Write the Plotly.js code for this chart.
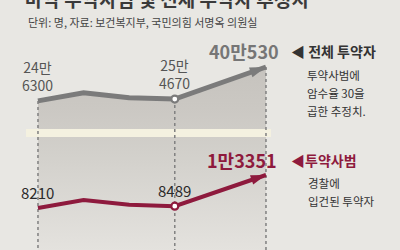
<!DOCTYPE html>
<html>
<head>
<meta charset="utf-8">
<script src="https://cdn.plot.ly/plotly-3.0.1.min.js"></script>
<style>
  html, body { margin: 0; padding: 0; background: #e8e7e3; }
  #chart { width: 400px; height: 250px; }
</style>
</head>
<body>
<div id="chart"></div>
<script>
// ---- data ----
const years = [2017, 2018, 2019, 2020, 2022];
const totalUsers = [246300, 283500, 261000, 254670, 400530];   // 전체 투약자 추정치
const offenders  = [8210, 9450, 8700, 8489, 13351];             // 투약사범
const labeledIdx = [0, 3];
const totalLabelTop = ['24만', '25만'];
const totalLabelBottom = ['6300', '4670'];
const offenderLabel = ['8210', '8489'];
const totalHeadline = '40만530';
const offenderHeadline = '1만3351';
const titleText = '마약 투약사범 및 전체 투약자 추정치';
const subtitleText = '단위: 명, 자료: 보건복지부, 국민의힘 서명옥 의원실';
const totalName = '◀ 전체 투약자';
const totalNote = ['투약사범에', '암수율 30을', '곱한 추정치.'];
const offenderName = '◀투약사범';
const offenderNote = ['경찰에', '입건된 투약자'];

// ---- styling / layout constants ----
const W = 400, H = 250;
const xRange = [2016.167, 2024.939];
const grayRange = [-432100, 705400];
const redRange = [1666, 40616];
const GRAY = '#7b7b7b';
const RED = '#8e1a3d';
const KR = "'Noto Sans CJK KR', sans-serif";
const NUM = "'Liberation Sans Narrow', 'Noto Sans CJK KR', sans-serif";
const band = { x0: 2016.737, x1: 2022.11, y: 133, width: 8, color: '#f4f1e0' };

const px = v => v / W;
const py = v => 1 - v / H;

const last = years.length - 1;

// dashed guides
const dashX = [], dashY = [];
[0, 3, last].forEach(i => {
  dashX.push(years[i], years[i], null);
  dashY.push(totalUsers[i], grayRange[0], null);
});

const markerSym = years.map((_, i) => i === last ? 'arrow' : 'circle');
const markerOp = years.map((_, i) => (i === last || labeledIdx.includes(i)) ? 1 : 0);

const traces = [
  { x: years, y: years.map(() => grayRange[0]), yaxis: 'y', mode: 'lines',
    line: { width: 0 }, hoverinfo: 'skip', showlegend: false },
  { x: years, y: totalUsers, yaxis: 'y', mode: 'lines', fill: 'tonexty',
    line: { width: 0 }, hoverinfo: 'skip', showlegend: false,
    fillgradient: { type: 'vertical', start: grayRange[0], stop: Math.max(...totalUsers),
      colorscale: [[0, '#e4e2de'], [0.5, '#d3d1cc'], [0.77, '#cbc8c3'], [1, '#c6c3be']] } },
  { x: [band.x0, band.x1], y: [band.y, band.y], yaxis: 'y2', mode: 'lines',
    line: { width: band.width, color: band.color }, hoverinfo: 'skip', showlegend: false },
  { x: dashX, y: dashY, yaxis: 'y3', mode: 'lines',
    line: { width: 1.5, color: '#808080', dash: 'dot' }, hoverinfo: 'skip', showlegend: false },
  { x: years, y: totalUsers, yaxis: 'y3', mode: 'lines+markers',
    line: { width: 5, color: GRAY },
    marker: { symbol: markerSym, angleref: 'previous', opacity: markerOp,
      size: years.map((_, i) => i === last ? 17 : 7),
      color: years.map((_, i) => i === last ? GRAY : 'white'),
      line: { color: GRAY, width: years.map((_, i) => i === last ? 0 : 2.2) } },
    hoverinfo: 'skip', showlegend: false },
  { x: years, y: offenders, yaxis: 'y4', mode: 'lines+markers',
    line: { width: 4, color: RED },
    marker: { symbol: markerSym, angleref: 'previous', opacity: markerOp,
      size: years.map((_, i) => i === last ? 16 : 7),
      color: years.map((_, i) => i === last ? RED : 'white'),
      line: { color: RED, width: years.map((_, i) => i === last ? 0 : 2.2) } },
    hoverinfo: 'skip', showlegend: false }
];

const annotations = [];
function add(o) {
  annotations.push(Object.assign({ showarrow: false, borderpad: 0, yanchor: 'middle' }, o));
}

// title & subtitle
add({ text: '<b>' + titleText + '</b>', xref: 'paper', yref: 'paper', x: px(24), y: py(-2),
  xanchor: 'left', font: { family: KR, size: 19, color: '#3a3a3a' } });
add({ text: subtitleText, xref: 'paper', yref: 'paper', x: px(27), y: py(22.5),
  xanchor: 'left', font: { family: KR, size: 11, color: '#444' } });

// point labels
labeledIdx.forEach((i, k) => {
  add({ text: totalLabelTop[k] + '<br>' + totalLabelBottom[k], xref: 'x', yref: 'y3',
    x: years[i], y: totalUsers[i], yshift: 25, xanchor: 'center',
    font: { family: NUM, size: 14, color: '#555' } });
  add({ text: offenderLabel[k], xref: 'x', yref: 'y4', x: years[i], y: offenders[i], yshift: 15.5,
    xanchor: 'center', font: { family: NUM, size: 15, color: '#2a2a2a' } });
});

// headlines
add({ text: '<b>' + totalHeadline + '</b>', xref: 'x', yref: 'y3', x: years[last], y: totalUsers[last],
  xanchor: 'right', xshift: 14, yshift: 16, font: { family: NUM, size: 18, color: '#767676' } });
add({ text: '<b>' + offenderHeadline + '</b>', xref: 'x', yref: 'y4', x: years[last], y: offenders[last],
  xanchor: 'right', xshift: 12, yshift: 15, font: { family: NUM, size: 18, color: RED } });

// series names and notes
add({ text: '<b>' + totalName + '</b>', xref: 'paper', yref: 'paper', x: px(290), y: py(51),
  xanchor: 'left', font: { family: KR, size: 14, color: '#333' } });
totalNote.forEach((t, k) => add({ text: t, xref: 'paper', yref: 'paper', x: px(306), y: py(75 + 18 * k),
  xanchor: 'left', font: { family: KR, size: 11.5, color: '#333' } }));
add({ text: '<b>' + offenderName + '</b>', xref: 'paper', yref: 'paper', x: px(290), y: py(160),
  xanchor: 'left', font: { family: KR, size: 14, color: RED } });
offenderNote.forEach((t, k) => add({ text: t, xref: 'paper', yref: 'paper', x: px(307), y: py(183 + 18 * k),
  xanchor: 'left', font: { family: KR, size: 11.5, color: '#333' } }));

const hidden = { visible: false, fixedrange: true };
const layout = {
  width: W, height: H,
  margin: { l: 0, r: 0, t: 0, b: 0 },
  paper_bgcolor: '#e8e7e3', plot_bgcolor: 'rgba(0,0,0,0)',
  showlegend: false, hovermode: false,
  xaxis: Object.assign({ range: xRange }, hidden),
  yaxis: Object.assign({ range: grayRange }, hidden),
  yaxis2: Object.assign({ range: [H, 0], overlaying: 'y' }, hidden),
  yaxis3: Object.assign({ range: grayRange, overlaying: 'y' }, hidden),
  yaxis4: Object.assign({ range: redRange, overlaying: 'y' }, hidden),
  annotations: annotations
};

Plotly.newPlot('chart', traces, layout, { staticPlot: true, displayModeBar: false });
</script>
</body>
</html>
